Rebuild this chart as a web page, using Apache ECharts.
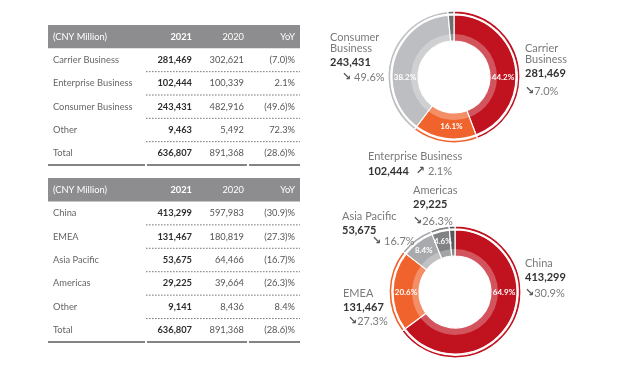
<!DOCTYPE html>
<html><head><meta charset="utf-8">
<script src="https://cdn.jsdelivr.net/npm/echarts@6/dist/echarts.min.js"></script>
<style>html,body{margin:0;padding:0;background:#fff}#c{width:640px;height:374px}</style>
</head><body><div id="c"></div>
<script>
// ---- data ----
const headerCols = ['(CNY Million)', '2021', '2020', 'YoY'];

const segCategories = ['Carrier Business', 'Enterprise Business', 'Consumer Business', 'Other', 'Total'];
const seg2021 = [281469, 102444, 243431, 9463, 636807];
const seg2020 = [302621, 100339, 482916, 5492, 891368];
const segYoY = ['(7.0)%', '2.1%', '(49.6)%', '72.3%', '(28.6)%'];

const regCategories = ['China', 'EMEA', 'Asia Pacific', 'Americas', 'Other', 'Total'];
const reg2021 = [413299, 131467, 53675, 29225, 9141, 636807];
const reg2020 = [597983, 180819, 64466, 39664, 8436, 891368];
const regYoY = ['(30.9)%', '(27.3)%', '(16.7)%', '(26.3)%', '8.4%', '(28.6)%'];

// ---- styling ----
const FONT = 'Lato';
const segColors = ['#c1121f', '#f0632d', '#bdbec1', '#6d6e71'];
const regColors = ['#c1121f', '#f0632d', '#a9aaad', '#818285', '#58595b'];

const fmt = v => v.toLocaleString('en-US');
const arrowOf = s => (s.indexOf('(') === 0 ? '\u2198' : '\u2197');
const absPct = s => s.replace(/[()]/g, '');

const TW = 252; // table width in axis units (px)
function tableSeries(idx, cats, v21, v20, yoy) {
  const rows = [headerCols].concat(cats.map((c, i) => [c, fmt(v21[i]), fmt(v20[i]), yoy[i]]));
  return {
    type: 'custom', xAxisIndex: idx, yAxisIndex: idx, silent: true,
    data: rows.map((r, i) => [0, i]),
    encode: { x: 0, y: 1 },
    renderItem(params, api) {
      const i = params.dataIndex, r = rows[i];
      const p = api.coord([0, i]);
      const h = api.size([0, 1])[1];
      const X = u => api.coord([u, i])[0];
      const yc = p[1], yb = yc + h / 2;
      const children = [];
      const isHead = i === 0, isLast = i === rows.length - 1;
      if (isHead) {
        children.push({ type: 'rect', shape: { x: X(0), y: yc - h / 2, width: X(TW) - X(0), height: h }, style: { fill: '#8d8d8f' } });
      }
      const col = isHead ? '#ffffff' : null;
      const mk = (t, x, align, color, weight) => ({
        type: 'text', x, y: yc,
        style: { text: t, align, verticalAlign: 'middle', fill: color, font: weight + ' 9.3px ' + FONT }
      });
      children.push(mk(r[0], X(5), 'left', col || '#666666', 'normal'));
      children.push(mk(r[1], X(144), 'right', col || '#2e2e2e', 'bold'));
      children.push(mk(r[2], X(196), 'right', col || '#555555', 'normal'));
      children.push(mk(r[3], X(247), 'right', col || '#555555', 'normal'));
      if (!isHead) {
        if (isLast) {
          [[0, 97], [99, 199], [201, TW]].forEach(s => children.push({
            type: 'line', shape: { x1: X(s[0]), y1: yb, x2: X(s[1]), y2: yb },
            style: { stroke: '#5a5a5a', lineWidth: 1.5 }
          }));
        } else {
          children.push({
            type: 'line', shape: { x1: X(98), y1: yb, x2: X(TW), y2: yb },
            style: { stroke: '#555', lineWidth: 0.8, lineDash: [1.6, 1.4] }
          });
        }
      }
      return { type: 'group', children };
    }
  };
}

// donut outside label layouts (top-left of label block); d = value->change line distance, ind = change indent px, sp = space after arrow
const segLabelPos = [
  { x: 525, y: 42.5, split: true, d: 18, ind: 0, sp: false },
  { x: 368, y: 150.5, wide: true },
  { x: 330, y: 31.5, split: true, d: 15, ind: 12, sp: true },
  null
];
const regLabelPos = [
  { x: 525, y: 257.5, d: 16, ind: 0, sp: false },
  { x: 343, y: 287.5, d: 14, ind: 5, sp: false },
  { x: 342, y: 210.5, d: 11, ind: 30, sp: true },
  { x: 413, y: 184.5, d: 17, ind: 0, sp: false },
  null
];
// angle (deg, clockwise from 12 o'clock) of inside percentage labels; null = default
const segInsideAngle = [90, 183, 270, null];
const regInsideAngle = [90, 270, null, null, null];

const VLH = 17;
const rich = {
  n: { fontFamily: FONT, fontSize: 11, color: '#7a7a7a', lineHeight: 11 },
  v: { fontFamily: FONT, fontSize: 11, fontWeight: 'bold', color: '#333', lineHeight: VLH },
  w: { fontFamily: FONT, fontSize: 11, fontWeight: 'bold', color: '#333', lineHeight: 19 },
  wa: { fontFamily: 'DejaVu Sans', fontSize: 11, fontWeight: 'bold', color: '#555', lineHeight: 19 },
  wc: { fontFamily: FONT, fontSize: 11, color: '#7a7a7a', lineHeight: 19 },
  gap: { width: 7, fontSize: 11 }
};
[...segLabelPos, ...regLabelPos].forEach(L => {
  if (!L || L.wide) return;
  const lh = 2 * L.d - VLH;
  rich['a' + lh] = { fontFamily: 'DejaVu Sans', fontSize: 11, fontWeight: 'bold', color: '#555', lineHeight: lh };
  rich['c' + lh] = { fontFamily: FONT, fontSize: 11, color: '#7a7a7a', lineHeight: lh };
  rich['i' + L.ind] = { width: L.ind, lineHeight: lh, fontSize: 11 };
});

function donut(cx, cy, names, vals, yoy, colors, pos, angles) {
  const total = vals.reduce((s, v) => s + v, 0);
  const data = names.map((n, i) => ({ name: n, value: vals[i], itemStyle: { color: colors[i] } }));
  const base = { type: 'pie', center: [cx, cy], startAngle: 90, clockwise: true, silent: true, animation: false };
  const rMid = (36 + 62) / 2;
  const main = Object.assign({}, base, {
    radius: [36, 62],
    itemStyle: { borderColor: '#fff', borderWidth: 1.2 },
    label: {
      show: true, position: 'inside',
      formatter: p => { const pc = p.value / total * 100; return pc < 3 ? '' : pc.toFixed(1) + '%'; },
      color: '#fff', fontSize: 8, fontWeight: 'bold', fontFamily: FONT
    },
    labelLine: { show: false },
    labelLayout: p => {
      const a = angles[p.dataIndex];
      if (a == null) return {};
      const t = a * Math.PI / 180;
      return { x: cx + rMid * Math.sin(t), y: cy - rMid * Math.cos(t), align: 'center', verticalAlign: 'middle' };
    },
    data
  });
  const outer = Object.assign({}, base, {
    radius: [63.2, 66], itemStyle: { borderColor: '#fff', borderWidth: 1.2 },
    label: { show: false }, labelLine: { show: false }, data
  });
  const inner = Object.assign({}, base, {
    radius: [36, 43], itemStyle: { color: 'rgba(255,255,255,0.28)', borderWidth: 0 },
    label: { show: false }, labelLine: { show: false },
    data: vals.map((v, i) => ({ name: names[i], value: v }))
  });
  const labels = Object.assign({}, base, {
    radius: [36, 66], itemStyle: { color: 'rgba(0,0,0,0)' },
    label: {
      show: true, position: 'outside', rich,
      formatter: p => {
        const L = pos[p.dataIndex];
        if (!L) return '';
        const nm = L.split ? p.name.replace(' ', '\n') : p.name;
        const nmTxt = nm.split('\n').map(s => '{n|' + s + '}').join('\n');
        const s = yoy[p.dataIndex];
        if (L.wide) return nmTxt + '\n{w|' + fmt(p.value) + '}{gap| }{wa|' + arrowOf(s) + '}{wc| ' + absPct(s) + '}';
        const lh = 2 * L.d - VLH;
        return nmTxt + '\n{v|' + fmt(p.value) + '}\n' + (L.ind ? '{i' + L.ind + '| }' : '') +
          '{a' + lh + '|' + arrowOf(s) + '}{c' + lh + '|' + (L.sp ? ' ' : '') + absPct(s) + '}';
      }
    },
    labelLine: { show: false },
    labelLayout: p => {
      const L = pos[p.dataIndex];
      if (!L) return { x: -100, y: -100 };
      return { x: L.x, y: L.y, align: 'left', verticalAlign: 'top', hideOverlap: false, moveOverlap: false };
    },
    data: vals.map((v, i) => ({ name: names[i], value: v }))
  });
  return [main, outer, inner, labels];
}

const chart = echarts.init(document.getElementById('c'), null, { renderer: 'canvas' });
chart.setOption({
  backgroundColor: '#fff',
  animation: false,
  grid: [
    { left: 48, top: 25, width: TW, height: 140 },
    { left: 48, top: 178, width: TW, height: 164 }
  ],
  xAxis: [
    { gridIndex: 0, type: 'value', min: 0, max: TW, show: false },
    { gridIndex: 1, type: 'value', min: 0, max: TW, show: false }
  ],
  yAxis: [
    { gridIndex: 0, type: 'category', inverse: true, data: [0, 1, 2, 3, 4, 5].map(String), show: false },
    { gridIndex: 1, type: 'category', inverse: true, data: [0, 1, 2, 3, 4, 5, 6].map(String), show: false }
  ],
  series: [
    tableSeries(0, segCategories, seg2021, seg2020, segYoY),
    tableSeries(1, regCategories, reg2021, reg2020, regYoY),
    ...donut(454, 77, segCategories.slice(0, 4), seg2021.slice(0, 4), segYoY.slice(0, 4), segColors, segLabelPos, segInsideAngle),
    ...donut(455, 292, regCategories.slice(0, 5), reg2021.slice(0, 5), regYoY.slice(0, 5), regColors, regLabelPos, regInsideAngle)
  ]
});
</script>
</body></html>
